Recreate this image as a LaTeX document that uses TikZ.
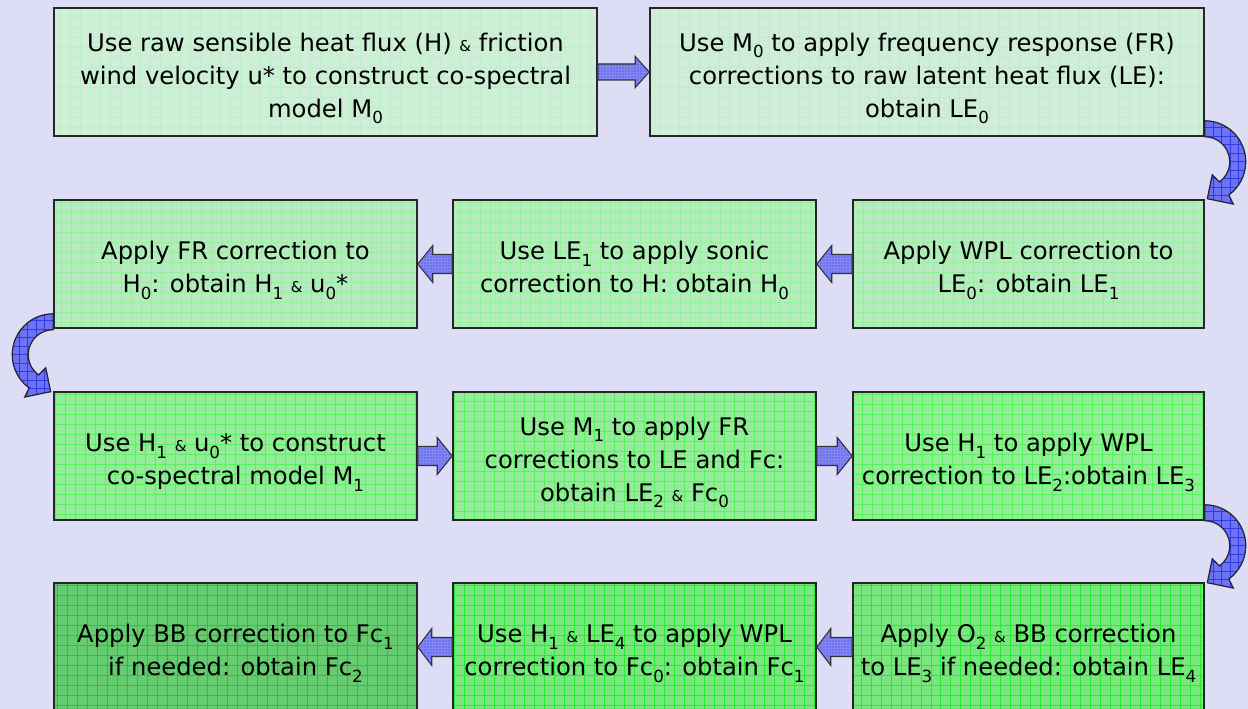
\documentclass[tikz,border=0pt]{standalone}
\usepackage{fontspec}
\setmainfont{DejaVu Sans}
\usepackage{tikz}
\usetikzlibrary{positioning,calc}
\usepackage{xcolor}

\definecolor{slidebg}{RGB}{221,221,246}
\definecolor{paleA}{RGB}{206,238,216}
\definecolor{gridA}{RGB}{188,240,196}
\definecolor{paleB}{RGB}{180,236,190}
\definecolor{gridB}{RGB}{150,240,158}
\definecolor{paleC}{RGB}{146,236,152}
\definecolor{gridC}{RGB}{90,240,96}
\definecolor{paleD}{RGB}{120,232,126}
\definecolor{gridD}{RGB}{40,236,50}
\definecolor{paleE}{RGB}{102,204,112}
\definecolor{gridE}{RGB}{30,205,45}
\definecolor{arrowblue}{RGB}{108,114,244}
\definecolor{arrowgrid}{RGB}{50,56,226}

\newcommand\lo[1]{\raisebox{-0.13cm}{\fontsize{9.5}{9.5}\selectfont #1}}
\newcommand\sand{{\fontsize{8.5}{8.5}\selectfont\&}}
\newcommand\topgap{\rule{0pt}{0.62cm}}
\newcommand\flowarrow[5]{%
  \filldraw[blockarrow] ($(#1)+(0,#3)$) -- ($(#2)!#5!(#1)+(0,#3)$)
    -- ($(#2)!#5!(#1)+(0,#4)$) -- (#2) -- ($(#2)!#5!(#1)+(0,-#4)$)
    -- ($(#2)!#5!(#1)+(0,-#3)$) -- ($(#1)+(0,-#3)$) -- cycle;}

\tikzset{
  flowbox/.style={draw=black!85, line width=0.9pt, align=center, inner sep=0pt,
    minimum height=2.56cm, font=\fontsize{13.8}{18.8}\selectfont},
  gridfill/.style 2 args={fill=#1, path picture={\draw[#2, line width=0.35pt]
    (path picture bounding box.south west) grid[step=0.2cm]
    (path picture bounding box.north east);}},
  blockarrow/.style={draw=black!80, line width=0.6pt, fill=arrowblue,
    path picture={\draw[arrowgrid!60, line width=0.2pt]
    (path picture bounding box.south west) grid[step=0.06cm]
    (path picture bounding box.north east);}},
  turnarrow/.style={draw=black!85, line width=0.7pt, fill=arrowblue,
    path picture={\draw[arrowgrid, line width=0.35pt]
    (path picture bounding box.south west) grid[step=0.17cm]
    (path picture bounding box.north east);}}
}

\begin{document}
\begin{tikzpicture}[x=0.02cm, y=0.02cm]
  \useasboundingbox (0,0) rectangle (1248,-709);
  \clip (0,0) rectangle (1248,-709);
  \fill[slidebg] (0,0) rectangle (1248,-709);

  % first row
  \node[flowbox, gridfill={paleA}{gridA}, minimum width=10.86cm] (rawH) at (325.5,-72)
    {\topgap Use raw sensible heat flux (H) \sand\ friction\\wind velocity u* to construct co-spectral\\model M\lo{0}};
  \node[flowbox, gridfill={paleA}{gridA}, minimum width=11.08cm] (freqLE) at (927,-72)
    {\topgap Use M\lo{0} to apply frequency response (FR)\\corrections to raw latent heat flux (LE):\\obtain LE\lo{0}};

  % second row
  \node[flowbox, gridfill={paleB}{gridB}, minimum width=7.02cm] (wplLE) at (1028.5,-264)
    {\topgap Apply WPL correction to\\LE\lo{0}: obtain LE\lo{1}};
  \node[flowbox, gridfill={paleB}{gridB}, minimum width=7.26cm] (sonicH) at (634.5,-264)
    {\topgap Use LE\lo{1} to apply sonic\\correction to H: obtain H\lo{0}};
  \node[flowbox, gridfill={paleB}{gridB}, minimum width=7.26cm] (frH) at (235.5,-264)
    {\topgap Apply FR correction to\\H\lo{0}: obtain H\lo{1} \sand\ u\lo{0}*};

  % third row
  \node[flowbox, gridfill={paleC}{gridC}, minimum width=7.26cm] (modelM) at (235.5,-456)
    {\topgap Use H\lo{1} \sand\ u\lo{0}* to construct\\co-spectral model M\lo{1}};
  \node[flowbox, gridfill={paleC}{gridC}, minimum width=7.26cm] (frLEFc) at (634.5,-456)
    {\topgap Use M\lo{1} to apply FR\\corrections to LE and Fc:\\obtain LE\lo{2} \sand\ Fc\lo{0}};
  \node[flowbox, gridfill={paleC}{gridC}, minimum width=7.02cm] (wplLEb) at (1028.5,-456)
    {\topgap Use H\lo{1} to apply WPL\\correction to LE\lo{2}:obtain LE\lo{3}};

  % fourth row
  \node[flowbox, gridfill={paleD}{gridD}, minimum width=7.02cm] (ooBB) at (1028.5,-647)
    {\topgap Apply O\lo{2} \sand\ BB correction\\to LE\lo{3} if needed: obtain LE\lo{4}};
  \node[flowbox, gridfill={paleD}{gridD}, minimum width=7.26cm] (wplFc) at (634.5,-647)
    {\topgap Use H\lo{1} \sand\ LE\lo{4} to apply WPL\\correction to Fc\lo{0}: obtain Fc\lo{1}};
  \node[flowbox, gridfill={paleE}{gridE}, minimum width=7.26cm] (bbFc) at (235.5,-647)
    {\topgap Apply BB correction to Fc\lo{1}\\if needed: obtain Fc\lo{2}};

  % straight arrows
  \flowarrow{rawH.east}{freqLE.west}{0.16cm}{0.31cm}{0.28cm}
  \flowarrow{wplLE.west}{sonicH.east}{0.19cm}{0.37cm}{0.3cm}
  \flowarrow{sonicH.west}{frH.east}{0.19cm}{0.37cm}{0.3cm}
  \flowarrow{modelM.east}{frLEFc.west}{0.19cm}{0.37cm}{0.3cm}
  \flowarrow{frLEFc.east}{wplLEb.west}{0.19cm}{0.37cm}{0.3cm}
  \flowarrow{ooBB.west}{wplFc.east}{0.19cm}{0.37cm}{0.28cm}
  \flowarrow{wplFc.west}{bbFc.east}{0.19cm}{0.37cm}{0.28cm}

  % turning arrows
  \coordinate (turnA) at ($(freqLE.south east)+(0,-25)$);
  \coordinate (turnB) at ($(frH.south west)+(0,-26)$);
  \coordinate (turnC) at ($(wplLEb.south east)+(0,-25)$);
  \filldraw[turnarrow, shift={(turnA)}] (90:41) arc[start angle=90, end angle=-54, radius=41]
    -- (-56:51) -- (-86:37) -- (-60:15) -- (-54:25)
    arc[start angle=-54, end angle=90, radius=25] -- cycle;
  \filldraw[turnarrow, shift={(turnB)}] (90:41) arc[start angle=90, end angle=234, radius=41]
    -- (236:51) -- (266:37) -- (240:15) -- (234:25)
    arc[start angle=234, end angle=90, radius=25] -- cycle;
  \filldraw[turnarrow, shift={(turnC)}] (90:41) arc[start angle=90, end angle=-54, radius=41]
    -- (-56:51) -- (-86:37) -- (-60:15) -- (-54:25)
    arc[start angle=-54, end angle=90, radius=25] -- cycle;
\end{tikzpicture}
\end{document}
